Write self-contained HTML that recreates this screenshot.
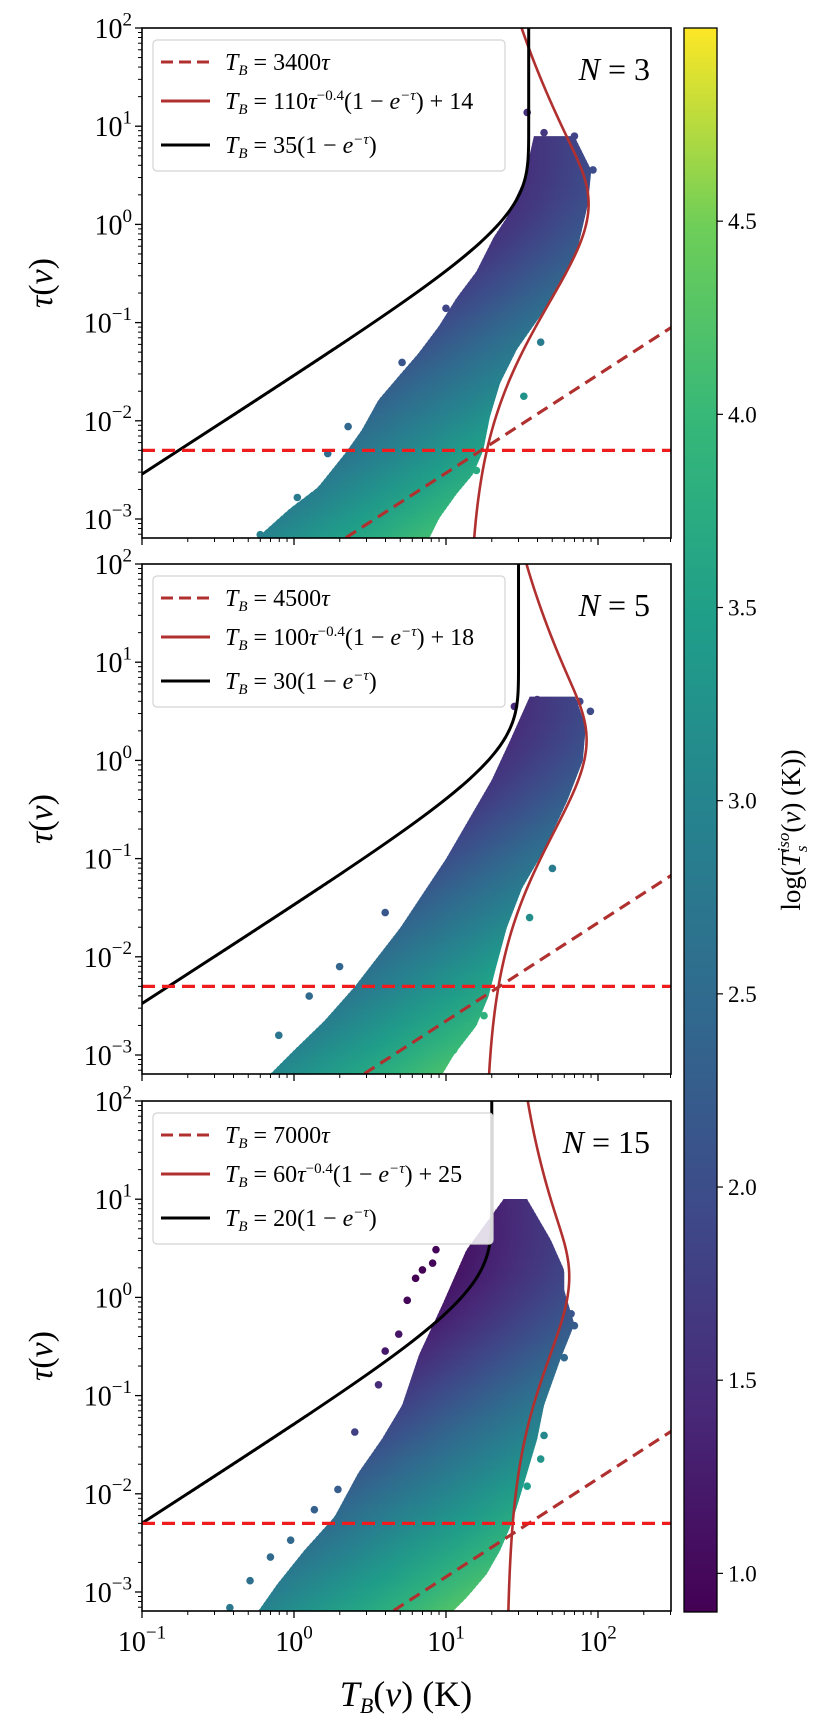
<!DOCTYPE html>
<html><head><meta charset="utf-8"><style>
html,body{margin:0;padding:0;background:#fff;}
svg{display:block;font-family:"Liberation Serif","DejaVu Serif",serif;}
</style></head><body>
<svg id="fig" xmlns="http://www.w3.org/2000/svg" width="830" height="1724" viewBox="0 0 830 1724">
<defs id="defs"></defs>
<g id="root"></g>
</svg>
<script>
// ---- data ----
const panelN = [3, 5, 15];
const dashCoef = [3400, 4500, 7000];
const redA = [110, 100, 60];
const redC = [14, 18, 25];
const blackA = [35, 30, 20];
const tauCut = 0.005;
const xTickLabels = ["-1", "0", "1", "2"];
const yTickLabels = ["-3", "-2", "-1", "0", "1", "2"];
const cbTicks = [1.0, 1.5, 2.0, 2.5, 3.0, 3.5, 4.0, 4.5];
// cloud envelopes (log10 tau, log10 T_B)
const p1RightLogTau = [0.899,0.555,0.211,-0.236,-0.580,-0.924,-1.268,-1.612,-1.956,-2.300,-2.541,-2.747,-2.988,-3.263];
const p1RightLogT   = [1.845,1.956,1.934,1.867,1.756,1.623,1.467,1.356,1.289,1.245,1.178,1.067,0.956,0.867];
const p1LeftLogTau  = [0.899,0.452,0.074,-0.133,-0.477,-0.752,-1.027,-1.302,-1.543,-1.784,-2.094,-2.334,-2.678,-2.885,-3.160,-3.263];
const p1LeftLogT    = [1.578,1.512,1.400,1.312,1.200,1.067,0.956,0.823,0.689,0.556,0.445,0.334,0.156,-0.022,-0.222,-0.244];
const p2RightLogTau = [0.65,0.35,0.0,-0.4,-0.9,-1.3,-1.7,-2.1,-2.4,-2.7,-3.0,-3.26];
const p2RightLogT   = [1.85,1.92,1.90,1.80,1.65,1.50,1.40,1.33,1.28,1.20,1.05,0.95];
const p2LeftLogTau  = [0.65,0.2,-0.2,-0.6,-1.0,-1.35,-1.7,-2.0,-2.3,-2.65,-2.95,-3.26];
const p2LeftLogT    = [1.55,1.42,1.30,1.15,1.00,0.85,0.70,0.55,0.40,0.20,0.0,-0.2];
const p3RightLogTau = [1.002,0.590,0.280,0.074,-0.270,-0.614,-1.096,-1.440,-1.784,-2.128,-2.334,-2.575,-2.816,-3.057,-3.263];
const p3RightLogT   = [1.534,1.689,1.778,1.778,1.845,1.756,1.645,1.600,1.534,1.467,1.423,1.356,1.267,1.134,1.000];
const p3LeftLogTau  = [1.002,0.486,-0.064,-0.580,-1.096,-1.440,-1.784,-2.231,-2.575,-2.919,-3.263];
const p3LeftLogT    = [1.378,1.134,0.978,0.823,0.711,0.578,0.423,0.267,0.067,-0.111,-0.267];
// outlier points
const p1DotLogT   = [1.534,1.645,1.845,1.967,1.623,1.512,1.112,1.200,1.000,0.778,0.222,0.356,0.711,1.000,0.022,-0.222];
const p1DotLogTau = [1.140,0.934,0.899,0.555,-1.199,-1.750,-2.575,-2.506,-2.747,-2.919,-2.334,-2.059,-1.406,-0.855,-2.781,-3.160];
const p2DotLogT   = [1.88,1.95,1.60,1.45,1.32,1.70,1.55,0.30,0.10,-0.10,1.15,1.05,0.60,1.25];
const p2DotLogTau = [0.60,0.50,0.62,0.55,-0.80,-1.10,-1.60,-2.10,-2.40,-2.80,-2.70,-2.95,-1.55,-2.60];
const p3DotLogT   = [0.934,0.912,0.845,0.800,0.745,0.689,0.600,0.556,0.400,0.289,0.134,-0.022,-0.155,-0.289,-0.422,1.823,1.845,1.778,1.645,1.623,1.534];
const p3DotLogTau = [0.486,0.349,0.280,0.194,-0.030,-0.374,-0.546,-0.890,-1.371,-1.956,-2.162,-2.472,-2.644,-2.885,-3.160,-0.167,-0.288,-0.614,-1.406,-1.646,-1.922];

const cloudRightTau = [p1RightLogTau, p2RightLogTau, p3RightLogTau];
const cloudRightT = [p1RightLogT, p2RightLogT, p3RightLogT];
const cloudLeftTau = [p1LeftLogTau, p2LeftLogTau, p3LeftLogTau];
const cloudLeftT = [p1LeftLogT, p2LeftLogT, p3LeftLogT];
const dotT = [p1DotLogT, p2DotLogT, p3DotLogT];
const dotTau = [p1DotLogTau, p2DotLogTau, p3DotLogTau];

// ---- layout ----
const NS = "http://www.w3.org/2000/svg";
const root = document.getElementById('root');
const defs = document.getElementById('defs');
const L = 142, R = 671, PH = 510, PXD = 152, PYD = 98.2;
const tops = [28, 564, 1101];
const yMinLog = 2 - PH / PYD;
const cbMin = 0.9, cbMax = 5.0, cbX = 684, cbW = 33, cbTop = 28, cbBot = 1612;
function X(logT) { return L + (logT + 1) * PXD; }
function Y(top, logTau) { return top + (2 - logTau) * PYD; }
function mk(tag, attrs, parent) {
  const e = document.createElementNS(NS, tag);
  for (const k in attrs) e.setAttribute(k, attrs[k]);
  (parent || root).appendChild(e);
  return e;
}
const vir = [[0x44,0x01,0x54],[0x48,0x28,0x78],[0x3e,0x49,0x89],[0x31,0x68,0x8e],[0x26,0x82,0x8e],[0x1f,0x9e,0x89],[0x35,0xb7,0x79],[0x6e,0xce,0x58],[0xfd,0xe7,0x25]];
function viridis(t) {
  t = Math.max(0, Math.min(1, t)) * 8;
  const i = Math.min(7, Math.floor(t)), f = t - i;
  const c = vir[i].map((v, k) => Math.round(v + (vir[i + 1][k] - v) * f));
  return `rgb(${c[0]},${c[1]},${c[2]})`;
}
function colorFor(logT, logTau) {
  const tau = Math.pow(10, logTau);
  const ts = Math.pow(10, logT) / (1 - Math.exp(-tau));
  return viridis((Math.log10(ts) - cbMin) / (cbMax - cbMin));
}
function interp(xs, ys, x) {
  if (x >= xs[0]) return ys[0];
  for (let i = 0; i < xs.length - 1; i++) {
    if (x <= xs[i] && x >= xs[i + 1]) {
      const f = (xs[i] - x) / (xs[i] - xs[i + 1]);
      return ys[i] + (ys[i + 1] - ys[i]) * f;
    }
  }
  return ys[ys.length - 1];
}
function sup(parent, base, exp, size) {
  const t = mk('tspan', {}, parent); t.textContent = base;
  const s = mk('tspan', {dy: -size * 0.45, 'font-size': size * 0.68}, parent); s.textContent = exp.replace('-', '\u2212');
}

tops.forEach((top, p) => {
  const bot = top + PH;
  const g = mk('g', {});
  
  
  const clipId = 'clip' + p;
  const cp = mk('clipPath', {id: clipId}, defs);
  mk('rect', {x: L, y: top, width: R - L, height: PH}, cp);
  const plot = mk('g', {'clip-path': `url(#${clipId})`}, g);

  const cloud = mk('g', {}, plot);
  
  
  const tTop = Math.min(cloudRightTau[p][0], cloudLeftTau[p][0]);
  const tBot = Math.max(yMinLog - 0.05, -3.26);
  const nS = 120;
  for (let s = 0; s < nS; s++) {
    const a = tTop - (tTop - tBot) * s / nS, b = tTop - (tTop - tBot) * (s + 1) / nS;
    const la = interp(cloudLeftTau[p], cloudLeftT[p], a), lb = interp(cloudLeftTau[p], cloudLeftT[p], b);
    const ra = interp(cloudRightTau[p], cloudRightT[p], a), rb = interp(cloudRightTau[p], cloudRightT[p], b);
    const m = (a + b) / 2, lm = (la + lb) / 2, rm = (ra + rb) / 2;
    const gid = `g${p}_${s}`;
    const lg = mk('linearGradient', {id: gid, gradientUnits: 'userSpaceOnUse', x1: X(lm), y1: 0, x2: X(rm), y2: 0}, defs);
    for (let k = 0; k <= 4; k++) {
      const lt = lm + (rm - lm) * k / 4;
      mk('stop', {offset: k / 4, 'stop-color': colorFor(lt, m)}, lg);
    }
    const poly = mk('polygon', {points: `${X(la)},${Y(top,a)} ${X(ra)},${Y(top,a)} ${X(rb)},${Y(top,b)+0.6} ${X(lb)},${Y(top,b)+0.6}`, fill: `url(#${gid})`}, cloud);
    
    
  }
  dotT[p].forEach((lt, i) => {
    const c = mk('circle', {cx: X(lt), cy: Y(top, dotTau[p][i]), r: 3.8, fill: colorFor(lt, dotTau[p][i])}, plot);
    
    
  });

  function curve(fn, attrs, name) {
    const pts = [];
    for (let i = 0; i <= 400; i++) {
      const lt = -3.4 + 5.6 * i / 400, tau = Math.pow(10, lt);
      const T = fn(tau);
      pts.push(`${X(Math.log10(T)).toFixed(2)},${Y(top, lt).toFixed(2)}`);
    }
    const e = mk('polyline', Object.assign({points: pts.join(' '), fill: 'none'}, attrs), plot);
    
    
  }
  curve(t => dashCoef[p] * t, {stroke: '#b0302f', 'stroke-width': 3.2, 'stroke-dasharray': '12,7'}, 'linear-fit-line');
  curve(t => redA[p] * Math.pow(t, -0.4) * (1 - Math.exp(-t)) + redC[p], {stroke: '#b0302f', 'stroke-width': 2.6}, 'upper-envelope-curve');
  curve(t => blackA[p] * (1 - Math.exp(-t)), {stroke: '#000', 'stroke-width': 3}, 'saturation-curve');
  const hl = mk('line', {x1: L, x2: R, y1: Y(top, Math.log10(tauCut)), y2: Y(top, Math.log10(tauCut)), stroke: '#ee1c1c', 'stroke-width': 3.2, 'stroke-dasharray': '13,7'}, plot);
  
  

  const fr = mk('rect', {x: L, y: top, width: R - L, height: PH, fill: 'none', stroke: '#000', 'stroke-width': 1.6}, g);
  
  

  for (let d = -4; d <= 2; d++) {
    for (let m = 1; m <= 9; m++) {
      const lv = d + Math.log10(m);
      if (lv > 2.001 || lv < yMinLog) continue;
      const y = Y(top, lv);
      mk('line', {x1: L, x2: L - (m === 1 ? 7 : 4), y1: y, y2: y, stroke: '#000', 'stroke-width': m === 1 ? 1.3 : 1}, g);
    }
  }
  yTickLabels.forEach(lab => {
    const t = mk('text', {x: 132, y: Y(top, +lab) + 10, 'text-anchor': 'end', 'font-size': 28}, g);
    
    
    sup(t, '10', lab, 28);
  });
  for (let d = -1; d <= 2; d++) {
    for (let m = 1; m <= 9; m++) {
      const lv = d + Math.log10(m);
      if (lv > Math.log10(300) + 0.001) continue;
      const x = X(lv);
      mk('line', {x1: x, x2: x, y1: bot, y2: bot + (m === 1 ? 7 : 4), stroke: '#000', 'stroke-width': m === 1 ? 1.3 : 1}, g);
    }
  }
  const yl = mk('text', {x: 0, y: 0, transform: `translate(52,${top + PH / 2}) rotate(-90)`, 'text-anchor': 'middle', 'font-size': 34}, g);
  
  
  const ylt = mk('tspan', {'font-style': 'italic'}, yl); ylt.textContent = 'τ';
  const ylv = mk('tspan', {}, yl); ylv.textContent = '(';
  const ylv2 = mk('tspan', {'font-style': 'italic'}, yl); ylv2.textContent = 'v';
  const ylv3 = mk('tspan', {}, yl); ylv3.textContent = ')';

  const nl = mk('text', {x: L + 508, y: top + 52, 'text-anchor': 'end', 'font-size': 32}, g);
  
  
  const nn = mk('tspan', {'font-style': 'italic'}, nl); nn.textContent = 'N';
  const nv = mk('tspan', {}, nl); nv.textContent = ' = ' + panelN[p];

  const lw = [352, 352, 340][p];
  const leg = mk('g', {}, g);
  
  
  mk('rect', {x: L + 11, y: top + 12, width: lw, height: 131, rx: 4, fill: '#fff', 'fill-opacity': 0.85, stroke: '#d4d4d4', 'stroke-width': 1.2}, leg);
  const rows = [
    {y: 34, dash: true, color: '#b0302f'},
    {y: 73, dash: false, color: '#b0302f'},
    {y: 117, dash: false, color: '#000'}
  ];
  rows.forEach((r, i) => {
    const ent = mk('g', {}, leg);
    
    
    mk('line', {x1: L + 19, x2: L + 68, y1: top + r.y, y2: top + r.y, stroke: r.color, 'stroke-width': 3, 'stroke-dasharray': r.dash ? '12,6' : 'none'}, ent);
    const t = mk('text', {x: L + 83, y: top + r.y + 8, 'font-size': 24}, ent);
    const a = mk('tspan', {'font-style': 'italic'}, t); a.textContent = 'T';
    const b = mk('tspan', {'font-style': 'italic', 'font-size': 15, dy: 5}, t); b.textContent = 'B';
    const c = mk('tspan', {dy: -5}, t);
    if (i === 0) {
      c.textContent = ' = ' + dashCoef[p];
      const d = mk('tspan', {'font-style': 'italic'}, t); d.textContent = 'τ';
    } else if (i === 1) {
      c.textContent = ' = ' + redA[p];
      const d = mk('tspan', {'font-style': 'italic'}, t); d.textContent = 'τ';
      const e = mk('tspan', {'font-size': 15, dy: -9}, t); e.textContent = '−0.4';
      const f = mk('tspan', {dy: 9}, t); f.textContent = '(1 − ';
      const h = mk('tspan', {'font-style': 'italic'}, t); h.textContent = 'e';
      const j = mk('tspan', {'font-size': 15, dy: -9, 'font-style': 'italic'}, t); j.textContent = '−τ';
      const k = mk('tspan', {dy: 9}, t); k.textContent = ') + ' + redC[p];
    } else {
      c.textContent = ' = ' + blackA[p] + '(1 − ';
      const h = mk('tspan', {'font-style': 'italic'}, t); h.textContent = 'e';
      const j = mk('tspan', {'font-size': 15, dy: -9, 'font-style': 'italic'}, t); j.textContent = '−τ';
      const k = mk('tspan', {dy: 9}, t); k.textContent = ')';
    }
  });
});

const botY = tops[2] + PH;
xTickLabels.forEach(lab => {
  const t = mk('text', {x: X(+lab), y: botY + 40, 'text-anchor': 'middle', 'font-size': 28});
  
  
  sup(t, '10', lab, 28);
});
const xl = mk('text', {x: 406, y: botY + 95, 'text-anchor': 'middle', 'font-size': 36});


{
  const a = mk('tspan', {'font-style': 'italic'}, xl); a.textContent = 'T';
  const b = mk('tspan', {'font-style': 'italic', 'font-size': 22, dy: 7}, xl); b.textContent = 'B';
  const c = mk('tspan', {dy: -7}, xl); c.textContent = '(';
  const d = mk('tspan', {'font-style': 'italic'}, xl); d.textContent = 'v';
  const e = mk('tspan', {}, xl); e.textContent = ') (K)';
}

const cbg = mk('linearGradient', {id: 'cbgrad', x1: 0, y1: 1, x2: 0, y2: 0}, defs);
for (let k = 0; k <= 8; k++) mk('stop', {offset: k / 8, 'stop-color': viridis(k / 8)}, cbg);
const cb = mk('rect', {x: cbX, y: cbTop, width: cbW, height: cbBot - cbTop, fill: 'url(#cbgrad)', stroke: '#000', 'stroke-width': 1.3});


cbTicks.forEach(v => {
  const y = cbBot - (v - cbMin) / (cbMax - cbMin) * (cbBot - cbTop);
  mk('line', {x1: cbX + cbW, x2: cbX + cbW + 6, y1: y, y2: y, stroke: '#000', 'stroke-width': 1.2});
  const t = mk('text', {x: cbX + cbW + 11, y: y + 8, 'font-size': 23});
  
  
  t.textContent = v.toFixed(1);
});
const cl = mk('text', {x: 0, y: 0, transform: 'translate(800,830) rotate(-90)', 'text-anchor': 'middle', 'font-size': 27});


{
  const a = mk('tspan', {}, cl); a.textContent = 'log(';
  const b = mk('tspan', {'font-style': 'italic'}, cl); b.textContent = 'T';
  const c = mk('tspan', {'font-style': 'italic', 'font-size': 17, dy: 7}, cl); c.textContent = 's';
  const d = mk('tspan', {'font-style': 'italic', 'font-size': 17, dx: -7, dy: -18}, cl); d.textContent = 'iso';
  const e = mk('tspan', {dy: 11}, cl); e.textContent = '(';
  const f = mk('tspan', {'font-style': 'italic'}, cl); f.textContent = 'v';
  const h = mk('tspan', {}, cl); h.textContent = ') (K))';
}
</script>
</body></html>
